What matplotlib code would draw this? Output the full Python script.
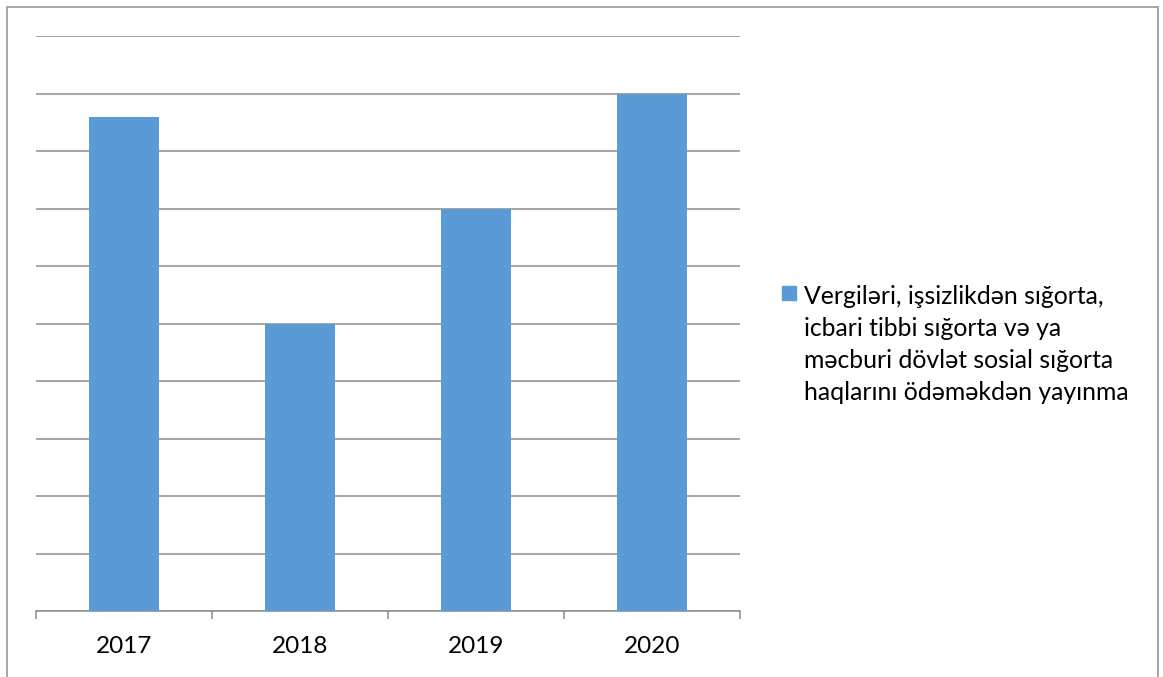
import matplotlib.pyplot as plt
from matplotlib.patches import Rectangle

# Data
years = ["2017", "2018", "2019", "2020"]
values = [8.6, 5.0, 7.0, 9.0]
series_label = ("Vergiləri, işsizlikdən sığorta,\n"
                "icbari tibbi sığorta və ya\n"
                "məcburi dövlət sosial sığorta\n"
                "haqlarını ödəməkdən yayınma")

plt.rcParams['font.family'] = ['Lato', 'DejaVu Sans']

W, H = 1163, 677
fig = plt.figure(figsize=(W / 100, H / 100), dpi=100)

# Plot area in pixels: x 36..740, y 36..611
ax = fig.add_axes([36 / W, (H - 611) / H, (740 - 36) / W, (611 - 36) / H])

bar_color = '#5B9BD5'
grid_color = '#8C8C8C'

x = range(len(years))
ax.bar(x, values, width=0.4, color=bar_color, zorder=3)

ax.set_xlim(-0.5, len(years) - 0.5)
ax.set_ylim(0, 10)
ax.set_yticks(range(0, 11))
ax.yaxis.grid(True, color=grid_color, linewidth=1.1, zorder=0)
ax.tick_params(axis='y', left=False, labelleft=False)

# Category labels centred under bars, ticks at category boundaries
ax.set_xticks(list(x))
ax.set_xticklabels(years, fontsize=17.5)
ax.tick_params(axis='x', length=0, pad=18)
ax.set_xticks([i - 0.5 for i in range(len(years) + 1)], minor=True)
ax.tick_params(axis='x', which='minor', length=6, width=1.1, color=grid_color, direction='out')

for side in ['top', 'right', 'left']:
    ax.spines[side].set_visible(False)
ax.spines['bottom'].set_color(grid_color)
ax.spines['bottom'].set_linewidth(1.1)

# Legend: square aligned with first line of the label
fig.patches.append(Rectangle((782 / W, (H - 300) / H), 14 / W, 14 / H,
                             transform=fig.transFigure, color=bar_color))
fig.text(804 / W, (H - 285) / H, series_label, fontsize=17.8, va='top', ha='left',
         linespacing=1.47, color='black')

# Outer chart border
fig.patches.append(Rectangle((6.5 / W, -0.05), (1158 - 6.5) / W, (H - 6.5) / H + 0.05,
                             transform=fig.transFigure, fill=False,
                             edgecolor='#A0A0A0', linewidth=1.3))

fig.savefig('out.png', dpi=100, facecolor='white')
